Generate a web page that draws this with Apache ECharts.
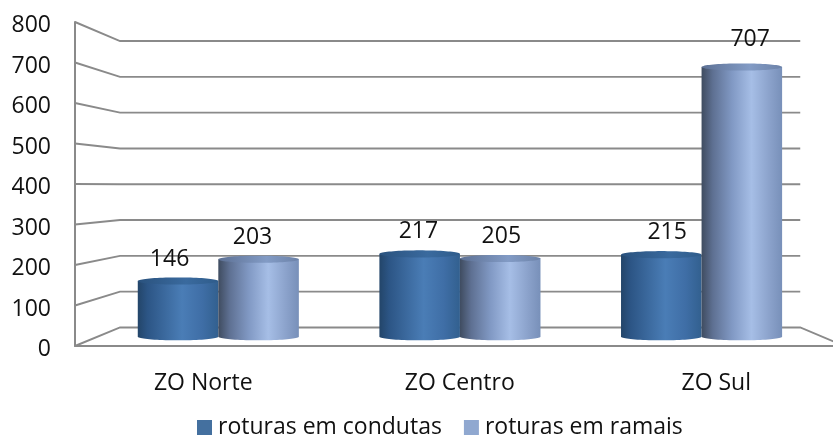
<!DOCTYPE html>
<html>
<head>
<meta charset="utf-8">
<script src="https://cdn.jsdelivr.net/npm/echarts@6/dist/echarts.min.js"></script>
<style>html,body{margin:0;padding:0;background:#fff}#c{width:833px;height:437px}</style>
</head>
<body>
<div id="c"></div>
<script>
var categories = ['ZO Norte', 'ZO Centro', 'ZO Sul'];
var condutas = [146, 217, 215];
var ramais = [203, 205, 707];
var yTicks = [0, 100, 200, 300, 400, 500, 600, 700, 800];
var seriesNames = ['roturas em condutas', 'roturas em ramais'];

var FONT = '"Open Sans", "Noto Sans", sans-serif';
var VP = [463, 186];            // vanishing point of the 3D box
var BACK = 0.884, MID = 0.942, LABEL = 0.97;
function proj(p, s) { return [VP[0] + s * (p[0] - VP[0]), VP[1] + s * (p[1] - VP[1])]; }

var palettes = [
  { body: [[0, '#234569'], [0.12, '#2c5585'], [0.55, '#4a7db6'], [0.8, '#3f6ea6'], [1, '#32608f']],
    cap: [[0, '#2a527e'], [0.6, '#3a6a9e'], [1, '#2f5c8b']] },
  { body: [[0, '#3f4c60'], [0.14, '#5e7092'], [0.38, '#8199c4'], [0.62, '#a6bee6'], [0.85, '#8aa1ca'], [1, '#7890b9']],
    cap: [[0, '#5d7195'], [0.6, '#829bc5'], [1, '#6c82a8']] }
];
function grad(stops) {
  return { type: 'linear', x: 0, y: 0, x2: 1, y2: 0,
    colorStops: stops.map(function (s) { return { offset: s[0], color: s[1] }; }) };
}

function wallItem(params, api) {
  var v = api.value(1);
  var cs = params.coordSys;
  var yf = api.coord([0, v])[1];
  var fl = [cs.x, yf], fr = [cs.x + cs.width, yf];
  var bl = proj(fl, BACK), br = proj(fr, BACK);
  var pts = [fl, bl, br];
  if (v === 0) pts.push(fr);
  return { type: 'polyline', shape: { points: pts },
    style: { stroke: '#8a8a8a', lineWidth: 1.9, fill: null }, silent: true };
}

function cylItem(sIdx) {
  return function (params, api) {
    var idx = api.value(0), v = api.value(1);
    var band = api.size([1, 0])[0];
    var off = (sIdx === 0 ? -1 : 1) * band / 6;
    var top = api.coord([idx, v]); top[0] += off;
    var base = api.coord([idx, 0]); base[0] += off;
    var t = proj(top, MID), b = proj(base, MID);
    var rx = band / 6 * MID, ry = 3.6;
    var body = [], cap = [], i, a;
    for (i = 0; i <= 40; i++) {
      a = Math.PI * i / 40;
      body.push([b[0] - rx * Math.cos(a), b[1] + ry * Math.sin(a)]);
    }
    body.push([t[0] + rx, t[1]], [t[0] - rx, t[1]]);
    for (i = 0; i < 80; i++) {
      a = 2 * Math.PI * i / 80;
      cap.push([t[0] + rx * Math.cos(a), t[1] + ry * Math.sin(a)]);
    }
    var l = proj([top[0], top[1]], LABEL);
    return { type: 'group', children: [
      { type: 'polygon', shape: { points: body }, style: { fill: grad(palettes[sIdx].body) } },
      { type: 'polygon', shape: { points: cap }, style: { fill: grad(palettes[sIdx].cap) } },
      { type: 'text', style: { text: String(v), x: l[0], y: l[1] - 24, fill: '#111', align: 'center',
        verticalAlign: 'middle', font: '23px ' + FONT } }
    ] };
  };
}

function zip(arr) { return arr.map(function (v, i) { return [i, v]; }); }

var chart = echarts.init(document.getElementById('c'), null, { renderer: 'canvas' });
chart.setOption({
  animation: false,
  backgroundColor: '#fff',
  grid: { left: 75, top: 22, height: 324, width: 769.5, outerBoundsMode: 'none', containLabel: false },
  legend: {
    left: 192, top: 411, itemWidth: 15, itemHeight: 15, itemGap: 22, selectedMode: false,
    textStyle: { fontFamily: FONT, fontSize: 23, color: '#111', padding: [0, 0, 0, 1] },
    data: [
      { name: seriesNames[0], icon: 'rect', itemStyle: { color: '#44709f' } },
      { name: seriesNames[1], icon: 'rect', itemStyle: { color: '#90a8d0' } }
    ]
  },
  xAxis: {
    type: 'category', data: categories,
    axisLine: { show: true, lineStyle: { color: '#8a8a8a', width: 2 } },
    axisTick: { show: false },
    axisLabel: { fontFamily: FONT, fontSize: 23, color: '#111', margin: 26 },
    splitLine: { show: false }
  },
  yAxis: {
    type: 'value', min: 0, max: 800, interval: 100,
    axisLine: { show: true, lineStyle: { color: '#8a8a8a', width: 2 } },
    axisTick: { show: false },
    axisLabel: { fontFamily: FONT, fontSize: 23, color: '#111', margin: 24, verticalAlign: 'top', lineHeight: 7 },
    splitLine: { show: false }
  },
  series: [
    { type: 'custom', name: 'wall', z: 1, silent: true, renderItem: wallItem, encode: { x: 0, y: 1 },
      data: yTicks.map(function (t) { return [0, t]; }) },
    { type: 'custom', name: seriesNames[0], z: 3, silent: true, renderItem: cylItem(0), encode: { x: 0, y: 1 },
      itemStyle: { color: '#44709f' }, data: zip(condutas) },
    { type: 'custom', name: seriesNames[1], z: 4, silent: true, renderItem: cylItem(1), encode: { x: 0, y: 1 },
      itemStyle: { color: '#90a8d0' }, data: zip(ramais) }
  ]
});
</script>
</body>
</html>
